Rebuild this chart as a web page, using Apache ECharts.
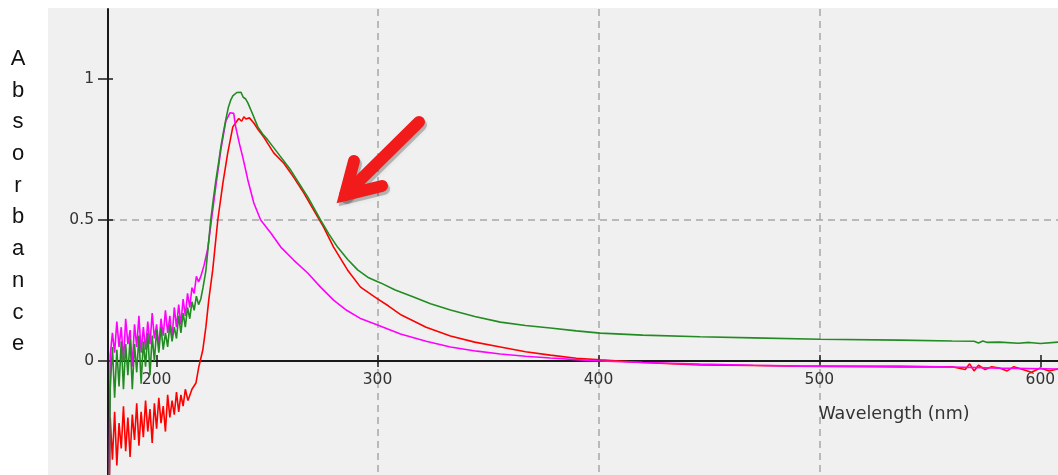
<!DOCTYPE html>
<html>
<head>
<meta charset="utf-8">
<script src="https://cdn.jsdelivr.net/npm/echarts@6/dist/echarts.min.js"></script>
<style>
html,body{margin:0;padding:0;background:#fff;}
#chart{width:1058px;height:475px;}
</style>
</head>
<body>
<div id="chart"></div>
<script>
// Tick labels
const xTicks = [200, 300, 400, 500, 600];
const yTicks = [0, 0.5, 1];
const xName = 'Wavelength (nm)';
const yName = 'Absorbance';

// Series: [wavelength nm, absorbance]
const redSeries = [
[178.5,-0.5],[179,-0.2],[180,-0.35],[181,-0.18],[182,-0.37],[183,-0.22],[184,-0.31],[185,-0.16],[186,-0.32],[187,-0.2],
[188,-0.34],[189,-0.19],[190,-0.28],[191,-0.15],[192,-0.3],[193,-0.18],[194,-0.27],[195,-0.14],[196,-0.25],[197,-0.17],
[198,-0.29],[199,-0.15],[200,-0.24],[201,-0.13],[202,-0.22],[203,-0.16],[204,-0.25],[205,-0.12],[206,-0.2],[207,-0.14],
[208,-0.19],[209,-0.11],[210,-0.18],[211,-0.12],[212,-0.16],[213,-0.1],[214.2,-0.14],[216,-0.1],[217.8,-0.078],
[219.1,-0.021],[220.9,0.039],[222.3,0.12],[223.6,0.216],[225.4,0.323],[227.7,0.5],[230,0.631],[232.2,0.738],[234.5,0.83],
[235.8,0.845],[237.2,0.86],[238.5,0.85],[239.5,0.866],[240.4,0.858],[242,0.862],[244,0.844],[246,0.82],[248.5,0.794],[253,0.738],
[257.5,0.702],[262,0.652],[266.6,0.596],[271.1,0.535],[275.6,0.475],[280.1,0.404],[286.4,0.323],[292.3,0.262],[299.5,0.223],
[305,0.195],[310.8,0.163],[322,0.12],[333,0.089],[344,0.067],[355.6,0.05],[367,0.033],[378.2,0.021],[390,0.01],[400.8,0.004],
[420,-0.005],[445.9,-0.014],[470,-0.016],[491.1,-0.018],[536.3,-0.021],[560,-0.02],[566,-0.03],[568,-0.01],[570,-0.035],
[572,-0.015],[575,-0.03],[578,-0.02],[581.5,-0.025],[585,-0.035],[588,-0.02],[592,-0.03],[596,-0.04],[600,-0.025],[604,-0.035],[608,-0.028]
];
const magentaSeries = [
[178.5,-0.5],[179,0.02],[180,0.1],[181,0.03],[182,0.14],[183,0.05],[184,0.12],[185,0.0],[186,0.15],[187,0.06],
[188,0.11],[189,-0.02],[190,0.13],[191,0.05],[192,0.16],[193,0.03],[194,0.12],[195,0.04],[196,0.14],[197,0.06],
[198,0.17],[199,0.08],[200,0.13],[201,0.05],[202,0.15],[203,0.09],[204,0.18],[205,0.1],[206,0.16],[207,0.08],
[208,0.19],[209,0.12],[210,0.2],[211,0.13],[212,0.22],[213,0.16],[214,0.24],[215,0.19],[216,0.26],[217,0.24],
[218,0.3],[219,0.28],[220,0.3],[221.5,0.34],[223.2,0.4],[224.5,0.48],[226.8,0.62],[229.1,0.75],[231.3,0.85],[233.2,0.88],
[234.9,0.878],[235.8,0.83],[237.5,0.77],[239,0.723],[241.3,0.642],[244,0.56],[247.1,0.5],[251.7,0.454],[256.2,0.404],
[262,0.358],[268.4,0.312],[274.2,0.262],[280.1,0.216],[286,0.18],[292,0.152],[300,0.128],[310.4,0.096],[322,0.07],
[333,0.05],[345,0.035],[355.6,0.025],[367,0.017],[378.2,0.011],[390,0.005],[400.8,0.0],[420,-0.005],[445.9,-0.011],
[470,-0.015],[491.1,-0.018],[536.3,-0.018],[560,-0.021],[581.5,-0.025],[608,-0.028]
];
const greenSeries = [
[178.5,-0.5],[179,-0.1],[180,0.05],[181,-0.13],[182,0.04],[183,-0.09],[184,0.07],[185,-0.1],[186,0.06],[187,-0.05],
[188,0.08],[189,-0.1],[190,0.06],[191,-0.04],[192,0.09],[193,-0.08],[194,0.07],[195,-0.02],[196,0.1],[197,-0.05],
[198,0.09],[199,0.0],[200,0.11],[201,0.03],[202,0.12],[203,0.04],[204,0.1],[205,0.05],[206,0.13],[207,0.07],
[208,0.12],[209,0.08],[210,0.16],[211,0.1],[212,0.17],[213,0.12],[214,0.19],[215,0.15],[216,0.21],[217,0.18],
[218,0.23],[219,0.2],[220,0.22],[221,0.26],[222.3,0.32],[223.4,0.41],[224.5,0.5],[225.6,0.57],[226.8,0.64],[228,0.7],
[229.1,0.76],[230.2,0.81],[231.3,0.855],[232.5,0.9],[233.6,0.926],[234.5,0.94],[235.4,0.935],[236.3,0.952],[237.2,0.945],
[238.2,0.953],[239.2,0.935],[240.2,0.93],[241.3,0.915],[243.5,0.875],[245.8,0.83],[248,0.805],[250.3,0.784],[254.8,0.738],
[260.7,0.677],[264.5,0.63],[268.4,0.582],[274.2,0.5],[278,0.45],[281.9,0.404],[286.5,0.36],[291,0.323],[296,0.295],
[301.4,0.277],[308,0.252],[316.3,0.227],[324,0.203],[333,0.181],[344,0.158],[355.6,0.138],[367,0.126],[378.2,0.117],
[390,0.107],[400.8,0.099],[420,0.092],[445.9,0.086],[470,0.082],[500.2,0.077],[536.3,0.074],[560,0.071],[570,0.07],
[572,0.064],[574,0.071],[576,0.066],[581.5,0.067],[590,0.063],[595,0.066],[600,0.062],[608,0.067]
];

const chart = echarts.init(document.getElementById('chart'), null, {renderer: 'canvas'});

const axisColor = '#1a1a1a';
const labelFont = 'DejaVu Sans';
const gridLine = {show: true, showMinLine: false, showMaxLine: false, lineStyle: {type: [7, 5], color: '#a6a6a6', width: 1.5}};
const clear = 'rgba(0,0,0,0)';

const yMin = -0.404, yMax = 1.248;
const gridTop = 9, gridHeight = 466;
// x axis drawn at absorbance 0: distance from grid bottom
const xAxisOffset = -(gridHeight * (0 - yMin) / (yMax - yMin));

const arrowRed = '#f11b1b';
const shaft = [[419,122],[345,195]];
const head = [[354,161],[345,195],[382,186]];

chart.setOption({
  animation: false,
  backgroundColor: '#ffffff',
  grid: {left: 108, top: gridTop, width: 950, height: gridHeight, outerBoundsMode: 'none', containLabel: false},
  xAxis: [{
    type: 'value', min: 178, max: 608, minInterval: 100, maxInterval: 100, position: 'bottom', offset: xAxisOffset,
    axisLine: {onZero: false, lineStyle: {color: axisColor, width: 2}},
    axisTick: {inside: true, length: 6, customValues: xTicks, lineStyle: {color: axisColor, width: 1.5}},
    axisLabel: {customValues: xTicks, margin: 11, color: '#333', fontSize: 15.5, fontFamily: labelFont},
    splitLine: gridLine
  }, {
    type: 'value', min: 178, max: 608, minInterval: 100, maxInterval: 100, position: 'bottom', offset: xAxisOffset,
    axisLine: {show: true, onZero: false, lineStyle: {color: clear, width: 0}},
    axisTick: {inside: false, length: 6, customValues: xTicks, lineStyle: {color: axisColor, width: 1.5}},
    axisLabel: {show: false},
    splitLine: {show: false}
  }],
  yAxis: [{
    type: 'value', min: yMin, max: yMax, minInterval: 0.5, maxInterval: 0.5, position: 'left',
    axisLine: {show: true, onZero: false, lineStyle: {color: axisColor, width: 2}},
    axisTick: {show: true, inside: false, length: 10, customValues: yTicks, lineStyle: {color: axisColor, width: 1.5}},
    axisLabel: {customValues: yTicks, margin: 14, color: '#333', fontSize: 15.5, fontFamily: labelFont},
    splitLine: gridLine
  }, {
    type: 'value', min: yMin, max: yMax, minInterval: 0.5, maxInterval: 0.5, position: 'left',
    axisLine: {show: true, onZero: false, lineStyle: {color: clear, width: 0}},
    axisTick: {show: true, inside: true, length: 5, customValues: yTicks, lineStyle: {color: axisColor, width: 1.5}},
    axisLabel: {show: false},
    splitLine: {show: false}
  }],
  series: [
    {type: 'line', name: 'red', data: redSeries, showSymbol: false, symbol: 'none', lineStyle: {color: '#ff0000', width: 1.6}, itemStyle: {color: '#ff0000'}, z: 2},
    {type: 'line', name: 'magenta', data: magentaSeries, showSymbol: false, symbol: 'none', lineStyle: {color: '#ff00ff', width: 1.6}, itemStyle: {color: '#ff00ff'}, z: 3},
    {type: 'line', name: 'green', data: greenSeries, showSymbol: false, symbol: 'none', lineStyle: {color: '#228b22', width: 1.6}, itemStyle: {color: '#228b22'}, z: 4}
  ],
  graphic: [
    {type: 'rect', z: -10, shape: {x: 48, y: 8, width: 1010, height: 467}, style: {fill: '#f0f0f0'}},
    {type: 'text', x: 894, y: 414, z: 5, style: {text: xName, fill: '#333', font: '17.5px "DejaVu Sans"', align: 'center', verticalAlign: 'middle'}},
    {type: 'text', x: 18, y: 43, z: 5, style: {text: yName.split('').join('\n'), fill: '#111', font: '22px "Liberation Sans"', align: 'center', verticalAlign: 'top', lineHeight: 31.7}},
    {type: 'polyline', z: 20, x: 2, y: 3, shape: {points: shaft}, style: {stroke: 'rgba(0,0,0,0.22)', lineWidth: 12, lineCap: 'round', shadowBlur: 5, shadowColor: 'rgba(0,0,0,0.3)'}},
    {type: 'polyline', z: 20, x: 2, y: 3, shape: {points: head}, style: {stroke: 'rgba(0,0,0,0.22)', lineWidth: 12, lineCap: 'round', lineJoin: 'miter', shadowBlur: 5, shadowColor: 'rgba(0,0,0,0.3)'}},
    {type: 'polyline', z: 21, shape: {points: shaft}, style: {stroke: arrowRed, lineWidth: 12, lineCap: 'round'}},
    {type: 'polyline', z: 21, shape: {points: head}, style: {stroke: arrowRed, lineWidth: 12, lineCap: 'round', lineJoin: 'miter'}}
  ]
});
</script>
</body>
</html>
